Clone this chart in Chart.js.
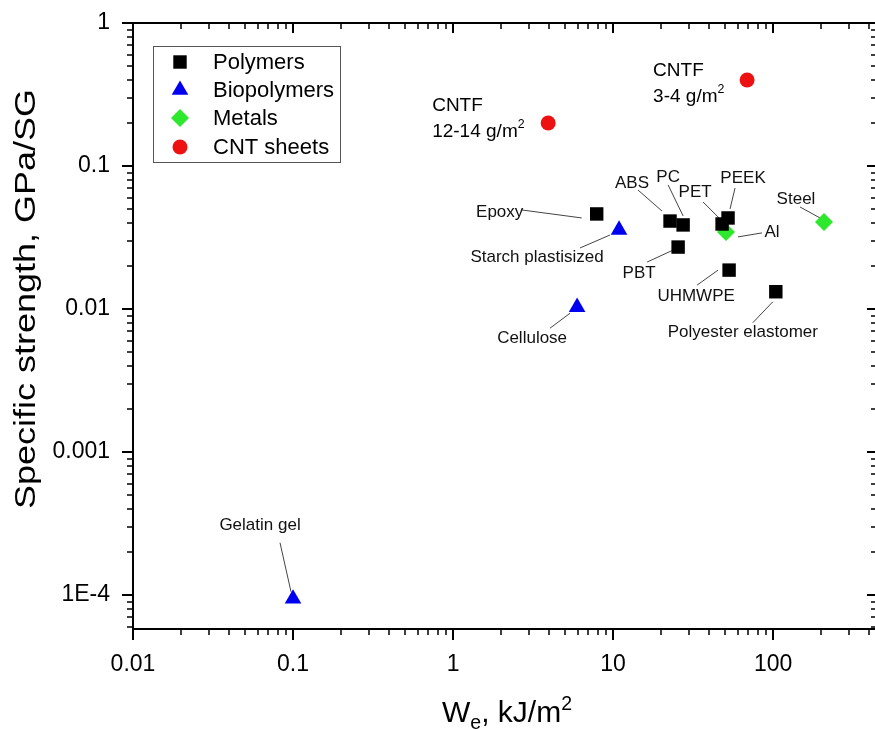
<!DOCTYPE html>
<html>
<head>
<meta charset="utf-8">
<script src="https://cdn.jsdelivr.net/npm/chart.js@4.4.1/dist/chart.umd.min.js"></script>
<style>
  html, body { margin: 0; padding: 0; background: #fff; overflow: hidden; }
  #wrap { width: 882px; height: 729px; }
  canvas { display: block; }
</style>
</head>
<body>
<div id="wrap"><canvas id="chart" width="882" height="729"></canvas></div>
<script>
// values (We in kJ/m2, specific strength in GPa/SG)
const polymerNames = ['Epoxy', 'ABS', 'PC', 'PBT', 'PET', 'PEEK', 'UHMWPE', 'Polyester elastomer'];
const polymerWe = [7.9, 22.7, 27.4, 25.5, 48, 52.3, 53.1, 104];
const polymerStrength = [0.0462, 0.0412, 0.0387, 0.0271, 0.0393, 0.0433, 0.0187, 0.0132];

const bioNames = ['Starch plastisized', 'Cellulose', 'Gelatin gel'];
const bioWe = [10.9, 5.96, 0.1];
const bioStrength = [0.0357, 0.0103, 0.000094];

const metalNames = ['Al', 'Steel'];
const metalWe = [50.8, 208];
const metalStrength = [0.0346, 0.0406];

const cntNames = ['CNTF 12-14', 'CNTF 3-4'];
const cntWe = [3.93, 68.8];
const cntStrength = [0.2, 0.399];

const xTicks = [0.01, 0.1, 1, 10, 100];
const xTickLabels = ['0.01', '0.1', '1', '10', '100'];
const yTicks = [0.0001, 0.001, 0.01, 0.1, 1];
const yTickLabels = ['1E-4', '0.001', '0.01', '0.1', '1'];

const FONT = "'Liberation Sans', Arial, sans-serif";

// where the callout text sits, in px from the marker centre, and its leader line
const callouts = [
    { name: 'Epoxy', tx: -97, ty: -2, line: [-75, -4, -15, 4] },
    { name: 'Starch plastisized', tx: -82, ty: 27, line: [-39, 18, -9, 5] },
    { name: 'ABS', tx: -38, ty: -38, line: [-32, -31, -8, -10] },
    { name: 'PC', tx: -15, ty: -48, line: [-15, -40, 0, -9] },
    { name: 'PET', tx: -27, ty: -32, line: [-19, -22, -3, -6] },
    { name: 'PEEK', tx: 15, ty: -40, line: [7, -30, 2, -9] },
    { name: 'Al', tx: 46, ty: 0, line: [36, 1, 12, 5] },
    { name: 'Steel', tx: -28, ty: -23, line: [-24, -15, -4, -4] },
    { name: 'PBT', tx: -39, ty: 26, line: [-31, 15, -5, 3] },
    { name: 'UHMWPE', tx: -33, ty: 26, line: [-32, 15, -11, 0] },
    { name: 'Polyester elastomer', tx: -33, ty: 41, line: [-23, 31, -3, 10] },
    { name: 'Cellulose', tx: -45, ty: 31, line: [-27, 21, -7, 6] },
    { name: 'Gelatin gel', tx: -33, ty: -73, line: [-13, -56, -2, -7] }
];

// two-line CNT fibre labels, left aligned
const cntLabels = [
    { name: 'CNTF 12-14', dx: -116, dy: [-17, 9], second: [{ t: '12-14 g/m' }, { t: '2', sup: true }] },
    { name: 'CNTF 3-4', dx: -94, dy: [-9, 17], second: [{ t: '3-4 g/m' }, { t: '2', sup: true }] }
];

function toPoints(xs, ys) {
    return xs.map((x, i) => ({ x: x, y: ys[i] }));
}

function drawMarker(ctx, style, x, y, r, color) {
    ctx.fillStyle = color;
    ctx.beginPath();
    if (style === 'rect') {
        const s = r * Math.SQRT1_2;
        ctx.rect(x - s, y - s, 2 * s, 2 * s);
    } else if (style === 'triangle') {
        const c = r * Math.cos(Math.PI / 6);
        ctx.moveTo(x, y - r);
        ctx.lineTo(x + c, y + r / 2);
        ctx.lineTo(x - c, y + r / 2);
        ctx.closePath();
    } else if (style === 'rectRot') {
        ctx.moveTo(x, y - r);
        ctx.lineTo(x + r, y);
        ctx.lineTo(x, y + r);
        ctx.lineTo(x - r, y);
        ctx.closePath();
    } else {
        ctx.arc(x, y, r, 0, Math.PI * 2);
    }
    ctx.fill();
}

// draws text with sub/superscript pieces, returns width
function drawParts(ctx, parts, x, y, size, measureOnly) {
    let cx = x;
    parts.forEach(p => {
        const s = (p.sup || p.sub) ? size * 0.65 : size;
        ctx.font = s + 'px ' + FONT;
        const dy = p.sup ? -size * 0.4 : (p.sub ? size * 0.22 : 0);
        if (!measureOnly) ctx.fillText(p.t, cx, y + dy);
        cx += ctx.measureText(p.t).width;
    });
    return cx - x;
}

function findPoint(chart, name) {
    for (let d = 0; d < chart.data.datasets.length; d++) {
        const ds = chart.data.datasets[d];
        const i = ds.names.indexOf(name);
        if (i >= 0) {
            const el = chart.getDatasetMeta(d).data[i];
            return { x: el.x, y: el.y };
        }
    }
    return null;
}

const decorations = {
    id: 'decorations',
    beforeDatasetsDraw(chart) {
        const ctx = chart.ctx;
        ctx.save();
        ctx.strokeStyle = '#444';
        ctx.lineWidth = 1;
        callouts.forEach(c => {
            const p = findPoint(chart, c.name);
            ctx.beginPath();
            ctx.moveTo(p.x + c.line[0], p.y + c.line[1]);
            ctx.lineTo(p.x + c.line[2], p.y + c.line[3]);
            ctx.stroke();
        });
        ctx.restore();
    },
    afterDraw(chart) {
        const ctx = chart.ctx;
        const a = chart.chartArea;
        const xs = chart.scales.x;
        const ys = chart.scales.y;
        ctx.save();

        // top and right frame
        ctx.strokeStyle = '#000';
        ctx.lineWidth = 2;
        ctx.beginPath();
        ctx.moveTo(a.left - 1, a.top);
        ctx.lineTo(a.right, a.top);
        ctx.lineTo(a.right, a.bottom + 1);
        ctx.stroke();

        // major ticks on the top / right, inward
        xTicks.forEach(v => {
            const px = Math.round(xs.getPixelForValue(v));
            ctx.beginPath();
            ctx.moveTo(px, a.top);
            ctx.lineTo(px, a.top + 10);
            ctx.stroke();
        });
        yTicks.forEach(v => {
            const py = Math.round(ys.getPixelForValue(v));
            ctx.beginPath();
            ctx.moveTo(a.right, py);
            ctx.lineTo(a.right - 10, py);
            ctx.stroke();
        });

        // minor ticks
        ctx.lineWidth = 1.5;
        for (let d = -2; d <= 2; d++) {
            for (let m = 2; m <= 9; m++) {
                const v = m * Math.pow(10, d);
                if (v > xs.max) continue;
                const px = Math.round(xs.getPixelForValue(v));
                ctx.beginPath();
                ctx.moveTo(px, a.bottom);
                ctx.lineTo(px, a.bottom + 6);
                ctx.moveTo(px, a.top);
                ctx.lineTo(px, a.top + 6);
                ctx.stroke();
            }
        }
        for (let d = -5; d <= -1; d++) {
            for (let m = 2; m <= 9; m++) {
                const v = m * Math.pow(10, d);
                if (v < ys.min || v > ys.max) continue;
                const py = Math.round(ys.getPixelForValue(v));
                ctx.beginPath();
                ctx.moveTo(a.left, py);
                ctx.lineTo(a.left - 6, py);
                ctx.moveTo(a.right, py);
                ctx.lineTo(a.right - 6, py);
                ctx.stroke();
            }
        }

        // callout text
        ctx.fillStyle = '#111';
        ctx.textAlign = 'center';
        ctx.textBaseline = 'middle';
        ctx.font = '17px ' + FONT;
        callouts.forEach(c => {
            const p = findPoint(chart, c.name);
            ctx.fillText(c.name, p.x + c.tx, p.y + c.ty);
        });

        // CNT fibre labels
        ctx.textAlign = 'left';
        ctx.fillStyle = '#000';
        cntLabels.forEach(c => {
            const p = findPoint(chart, c.name);
            ctx.font = '19px ' + FONT;
            ctx.fillText('CNTF', p.x + c.dx, p.y + c.dy[0]);
            drawParts(ctx, c.second, p.x + c.dx, p.y + c.dy[1], 19);
        });

        // legend box
        ctx.strokeStyle = '#555';
        ctx.lineWidth = 1;
        ctx.strokeRect(153.5, 46.5, 187, 116);
        ctx.font = '22px ' + FONT;
        ctx.textBaseline = 'middle';
        const rows = [62, 90, 118, 147];
        chart.data.datasets.forEach((ds, i) => {
            drawMarker(ctx, ds.pointStyle, 180, rows[i], ds.pointRadius, ds.backgroundColor);
            ctx.fillStyle = '#000';
            ctx.fillText(ds.label, 213, rows[i] + 1);
        });

        // x axis title
        ctx.fillStyle = '#000';
        ctx.textBaseline = 'alphabetic';
        const xTitle = [{ t: 'W' }, { t: 'e', sub: true }, { t: ', kJ/m' }, { t: '2', sup: true }];
        const w = drawParts(ctx, xTitle, 0, 0, 30, true);
        drawParts(ctx, xTitle, 507 - w / 2, 722, 30);

        // y axis title
        ctx.save();
        ctx.translate(35, 299);
        ctx.rotate(-Math.PI / 2);
        ctx.scale(1.2, 1);
        ctx.textAlign = 'center';
        ctx.font = '30px ' + FONT;
        ctx.fillText('Specific strength, GPa/SG', 0, 0);
        ctx.restore();

        ctx.restore();
    }
};

const axisGrid = {
    display: true,
    drawOnChartArea: false,
    drawTicks: true,
    tickLength: 11,
    color: '#000',
    lineWidth: 2
};

new Chart(document.getElementById('chart'), {
    type: 'scatter',
    data: {
        datasets: [
            {
                label: 'Polymers',
                names: polymerNames,
                data: toPoints(polymerWe, polymerStrength),
                pointStyle: 'rect',
                pointRadius: 9.5,
                backgroundColor: '#000000',
                borderWidth: 0
            },
            {
                label: 'Biopolymers',
                names: bioNames,
                data: toPoints(bioWe, bioStrength),
                pointStyle: 'triangle',
                pointRadius: 9.6,
                backgroundColor: '#0000f0',
                borderWidth: 0
            },
            {
                label: 'Metals',
                names: metalNames,
                data: toPoints(metalWe, metalStrength),
                pointStyle: 'rectRot',
                pointRadius: 9,
                backgroundColor: '#2de82d',
                borderWidth: 0
            },
            {
                label: 'CNT sheets',
                names: cntNames,
                data: toPoints(cntWe, cntStrength),
                pointStyle: 'circle',
                pointRadius: 7.5,
                backgroundColor: '#ee1111',
                borderWidth: 0
            }
        ]
    },
    options: {
        responsive: false,
        devicePixelRatio: 1,
        animation: false,
        // canvas is a few px wider than the window so the right frame sits just off screen
        layout: { autoPadding: false, padding: { top: 23, right: 5, left: 0, bottom: 0 } },
        plugins: {
            legend: { display: false },
            tooltip: { enabled: false }
        },
        scales: {
            x: {
                type: 'logarithmic',
                min: 0.01,
                max: 446,
                afterFit: scale => {
                    scale.height = 100;
                    scale.paddingLeft = 0;
                    scale.paddingRight = 0;
                },
                afterBuildTicks: scale => { scale.ticks = xTicks.map(v => ({ value: v })); },
                grid: axisGrid,
                border: { display: true, color: '#000', width: 2 },
                ticks: {
                    autoSkip: false,
                    maxRotation: 0,
                    padding: 11,
                    color: '#000',
                    font: { family: FONT, size: 23 },
                    callback: (value, index) => xTickLabels[index]
                }
            },
            y: {
                type: 'logarithmic',
                min: 0.0000578,
                max: 1,
                afterFit: scale => {
                    scale.width = 133;
                    scale.paddingTop = 0;
                    scale.paddingBottom = 0;
                },
                afterBuildTicks: scale => { scale.ticks = yTicks.map(v => ({ value: v })); },
                grid: axisGrid,
                border: { display: true, color: '#000', width: 2 },
                ticks: {
                    autoSkip: false,
                    padding: 12,
                    color: '#000',
                    font: { family: FONT, size: 23 },
                    callback: (value, index) => yTickLabels[index]
                }
            }
        }
    },
    plugins: [decorations]
});
</script>
</body>
</html>
